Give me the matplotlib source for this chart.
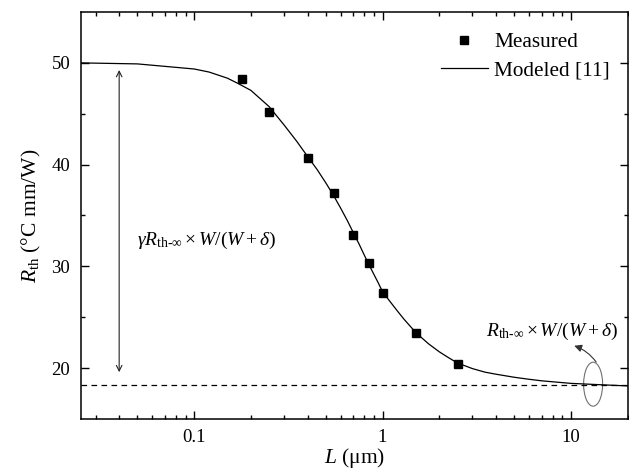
import numpy as np
import matplotlib
matplotlib.use("Agg")
import matplotlib.pyplot as plt
from matplotlib.patches import Ellipse
from matplotlib.transforms import ScaledTranslation
from matplotlib.ticker import LogLocator, FixedLocator, NullFormatter

plt.rcParams['font.family'] = ['Liberation Serif', 'DejaVu Serif']
plt.rcParams['mathtext.fontset'] = 'custom'
plt.rcParams['mathtext.rm'] = 'Liberation Serif'
plt.rcParams['mathtext.it'] = 'Liberation Serif:italic'
plt.rcParams['mathtext.bf'] = 'Liberation Serif:bold'

# measured points
L_meas = [0.18, 0.25, 0.4, 0.55, 0.7, 0.85, 1.0, 1.5, 2.5]
R_meas = [48.4, 45.15, 40.7, 37.2, 33.05, 30.3, 27.35, 23.45, 20.45]

# modeled curve
L_mod = [0.025, 0.05, 0.1, 0.12, 0.15, 0.17, 0.2, 0.25, 0.3, 0.35, 0.4, 0.45, 0.5,
         0.55, 0.6, 0.65, 0.7, 0.75, 0.8, 0.85, 0.9, 0.95, 1.0, 1.1, 1.2, 1.3,
         1.5, 1.75, 2.0, 2.25, 2.5, 3.0, 3.5, 4.0, 5.0, 6.0, 7.0, 10, 15, 20]
R_mod = [50.0, 49.9, 49.4, 49.1, 48.5, 48.0, 47.3, 45.7, 43.9, 42.3, 40.8, 39.5, 38.2,
         36.95, 35.7, 34.5, 33.3, 32.2, 31.1, 30.1, 29.2, 28.35, 27.5, 26.5, 25.6, 24.8,
         23.5, 22.4, 21.6, 21.0, 20.5, 19.95, 19.6, 19.4, 19.1, 18.9, 18.75, 18.5, 18.35, 18.25]

R_inf = 18.3

fig = plt.figure(figsize=(6.29, 4.73), dpi=100)
ax = fig.add_axes([0.1283, 0.1142, 0.998 - 0.1283, 0.9746 - 0.1142])

ax.plot(L_mod, R_mod, color='black', lw=0.9, label='Modeled [11]')
ax.plot(L_meas, R_meas, 's', color='black', ms=6, label='Measured')
ax.axhline(R_inf, color='black', lw=0.9, ls=(0, (4.5, 3.5)))

ax.set_xscale('log')
ax.set_xlim(0.025, 20)
ax.set_ylim(15, 55)

ax.xaxis.set_major_locator(FixedLocator([0.1, 1, 10]))
ax.set_xticklabels(['0.1', '1', '10'])
ax.xaxis.set_minor_locator(LogLocator(base=10, subs=np.arange(2, 10)))
ax.xaxis.set_minor_formatter(NullFormatter())
ax.set_yticks([20, 30, 40, 50])
ax.set_yticks([25, 35, 45], minor=True)

ax.tick_params(which='both', direction='in', top=True, right=True, width=1.0,
               labelsize=13.5)
ax.tick_params(which='major', length=6)
ax.tick_params(which='minor', length=3)
ax.tick_params(axis='x', which='major', pad=7.5)
ax.tick_params(axis='y', which='major', pad=7.5)
for s in ax.spines.values():
    s.set_linewidth(1.1)

ax.set_xlabel(r'$L$ ($\mathrm{\mu}$m)', fontsize=15.5, labelpad=0)
ax.set_ylabel(r'$R_{\mathrm{th}}$ (°C mm/W)', fontsize=15.5, labelpad=6)

# vertical double arrow
ax.annotate('', xy=(0.04, 49.3), xytext=(0.04, 19.6),
            arrowprops=dict(arrowstyle='<->', color='#222222', lw=0.8,
                            shrinkA=0, shrinkB=0))
ax.text(0.05, 32.5, r'$\gamma R_{\mathrm{th}\text{-}\infty} \times W/(W+\delta)$',
        fontsize=14, va='center', ha='left')

ax.text(3.55, 23.6, r'$R_{\mathrm{th}\text{-}\infty} \times W/(W+\delta)$',
        fontsize=14, va='center', ha='left')

# ellipse in physical size around the asymptote
ell = Ellipse((0, 0), width=0.19, height=0.44, fill=False, edgecolor='#707070', lw=0.8,
              transform=fig.dpi_scale_trans + ScaledTranslation(13.1, 18.42, ax.transData))
ax.add_patch(ell)
ax.annotate('', xy=(10.4, 22.2), xytext=(13.6, 20.6),
            arrowprops=dict(arrowstyle='-|>', color='#333333', lw=0.8,
                            mutation_scale=11, shrinkA=0, shrinkB=0,
                            connectionstyle='arc3,rad=0.15'))

h, l = ax.get_legend_handles_labels()
ax.legend([h[1], h[0]], [l[1], l[0]], loc='upper right', frameon=False, fontsize=15.3,
          handlelength=2.2, handletextpad=0.3, labelspacing=0.4,
          bbox_to_anchor=(1.0, 0.995), borderaxespad=0.45)

fig.savefig('out.png', dpi=100)
